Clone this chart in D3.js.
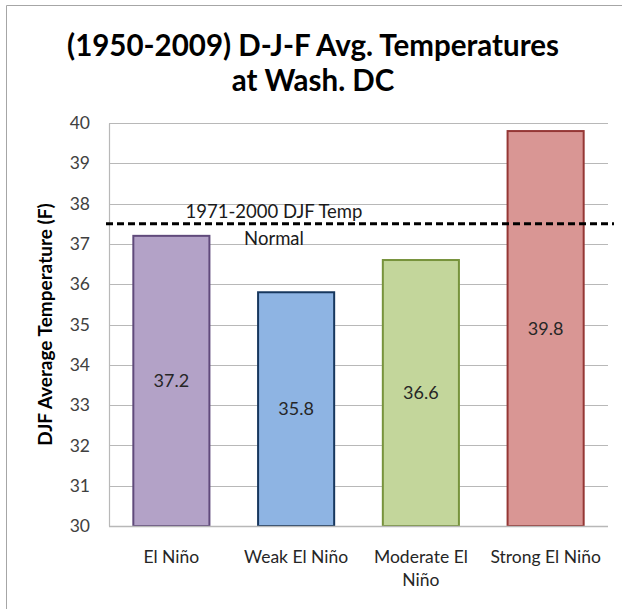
<!DOCTYPE html>
<html>
<head>
<meta charset="utf-8">
<script src="https://cdn.jsdelivr.net/npm/d3@7"></script>
<style>
  body { margin: 0; background: #fff; }
  text { font-family: Lato, "Open Sans", sans-serif; }
</style>
</head>
<body>
<svg id="chart" width="622" height="609"></svg>
<script>
const categories = ["El Niño", "Weak El Niño", "Moderate El Niño", "Strong El Niño"];
const labelLines = [["El Niño"], ["Weak El Niño"], ["Moderate El", "Niño"], ["Strong El Niño"]];
const values = [37.2, 35.8, 36.6, 39.8];
const fills = ["#b3a2c7", "#8eb4e3", "#c3d69b", "#d99694"];
const strokes = ["#604a7b", "#17375e", "#77933c", "#953735"];
const yTicks = [30, 31, 32, 33, 34, 35, 36, 37, 38, 39, 40];
const normal = 37.5;

const svg = d3.select("#chart");
const margin = { top: 123, right: 14, bottom: 83, left: 109 };
const width = 622, height = 609;

// frame
svg.append("path")
  .attr("d", `M6.5,${height} V5.5 H${width}`)
  .attr("fill", "none")
  .attr("stroke", "#a6a6a6");

const x = d3.scaleBand()
  .domain(categories)
  .range([margin.left, width - margin.right])
  .paddingInner(0.39)
  .paddingOuter(0.195);

const y = d3.scaleLinear()
  .domain([30, 40])
  .range([height - margin.bottom, margin.top]);

// gridlines
svg.append("g")
  .selectAll("line")
  .data(yTicks)
  .join("line")
  .attr("x1", margin.left)
  .attr("x2", width - margin.right)
  .attr("y1", d => Math.round(y(d)) + 0.5)
  .attr("y2", d => Math.round(y(d)) + 0.5)
  .attr("stroke", "#b8b8b8")
  .attr("stroke-width", 1.2);

// y axis
const yAxis = svg.append("g")
  .attr("transform", `translate(${margin.left},0)`)
  .call(d3.axisLeft(y).tickValues(yTicks).tickSize(0).tickPadding(8));
yAxis.select(".domain").attr("stroke", "#b8b8b8").attr("stroke-width", 1.2);
yAxis.selectAll("text")
  .style("font-size", "17.5px")
  .attr("fill", "#404040")
  .attr("x", -19);

// bars
svg.append("g")
  .selectAll("rect")
  .data(values)
  .join("rect")
  .attr("x", (d, i) => x(categories[i]))
  .attr("y", d => y(d))
  .attr("width", x.bandwidth())
  .attr("height", d => y(30) - y(d))
  .attr("fill", (d, i) => fills[i])
  .attr("stroke", (d, i) => strokes[i])
  .attr("stroke-width", 2);

// value labels
svg.append("g")
  .selectAll("text")
  .data(values)
  .join("text")
  .attr("x", (d, i) => x(categories[i]) + x.bandwidth() / 2)
  .attr("y", d => (y(d) + y(30)) / 2 + 6)
  .attr("text-anchor", "middle")
  .style("font-size", "18px")
  .attr("fill", "#262626")
  .text(d => d.toFixed(1));

// x axis line
svg.append("line")
  .attr("x1", margin.left)
  .attr("x2", width - margin.right)
  .attr("y1", y(30) + 0.5)
  .attr("y2", y(30) + 0.5)
  .attr("stroke", "#b8b8b8")
  .attr("stroke-width", 1.5);

// category labels
const cat = svg.append("g")
  .selectAll("text")
  .data(labelLines)
  .join("text")
  .attr("text-anchor", "middle")
  .attr("x", (d, i) => x(categories[i]) + x.bandwidth() / 2)
  .attr("y", height - margin.bottom + 37)
  .style("font-size", "17.5px")
  .attr("fill", "#262626");
cat.selectAll("tspan")
  .data((d, i) => d.map(t => ({ t, i })))
  .join("tspan")
  .attr("x", d => x(categories[d.i]) + x.bandwidth() / 2)
  .attr("dy", (d, j) => j === 0 ? 0 : 23)
  .text(d => d.t);

// normal dashed line
svg.append("line")
  .attr("x1", margin.left - 3)
  .attr("x2", width - 8)
  .attr("y1", y(normal))
  .attr("y2", y(normal))
  .attr("stroke", "#000")
  .attr("stroke-width", 3)
  .attr("stroke-dasharray", "7,4");

svg.append("text")
  .attr("x", 274)
  .attr("y", y(normal) - 6)
  .attr("text-anchor", "middle")
  .style("font-size", "18.5px")
  .attr("fill", "#1a1a1a")
  .text("1971-2000 DJF Temp");
svg.append("text")
  .attr("x", 274)
  .attr("y", y(normal) + 21)
  .attr("text-anchor", "middle")
  .style("font-size", "18.5px")
  .attr("fill", "#1a1a1a")
  .text("Normal");

// y axis title
svg.append("text")
  .attr("transform", `translate(52,${(y(30) + y(40)) / 2}) rotate(-90)`)
  .attr("text-anchor", "middle")
  .style("font-size", "19px")
  .style("font-weight", "bold")
  .attr("fill", "#000")
  .text("DJF Average Temperature (F)");

// title
const title = svg.append("text")
  .attr("text-anchor", "middle")
  .style("font-size", "29.5px")
  .style("font-weight", "bold")
  .attr("fill", "#000");
title.append("tspan").attr("x", 313).attr("y", 56).text("(1950-2009) D-J-F Avg. Temperatures");
title.append("tspan").attr("x", 313).attr("y", 91).text("at Wash. DC");
</script>
</body>
</html>
